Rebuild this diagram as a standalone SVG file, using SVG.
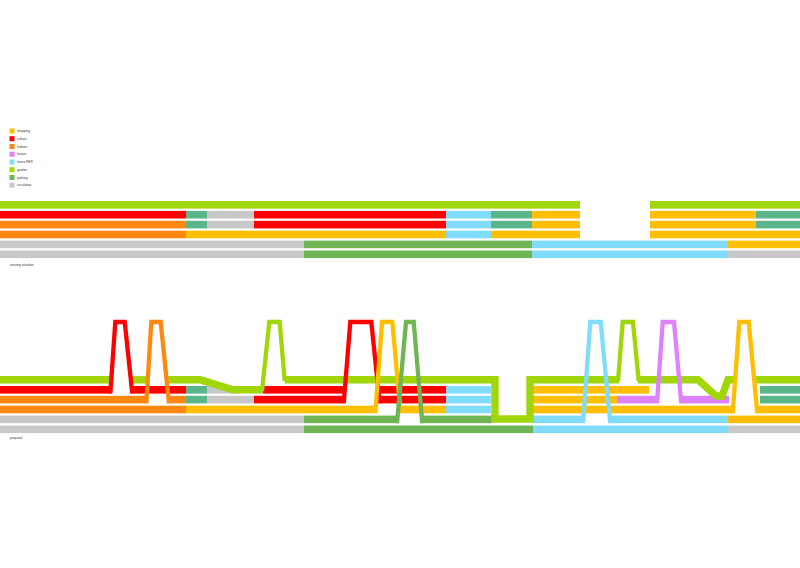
<svg xmlns="http://www.w3.org/2000/svg" width="800" height="568" viewBox="0 0 800 568">
<style>
.t{font-family:"Liberation Sans",Arial,sans-serif;font-size:3.2px;fill:#333}
.gd{fill:#a0d60a}.cu{fill:#ff0000}.fa{fill:#ff8811}.sh{fill:#ffbf00}.tl{fill:#5bb58b}
.pk{fill:#6fb553}.mr{fill:#80dcfa}.ci{fill:#c8c8c8}.le{fill:#df80ff}
.gl{fill:none;stroke:#a0d60a;stroke-width:7.4;stroke-linejoin:miter}
.lp{fill:none;stroke-width:4.3;stroke-linejoin:miter}
</style>
<rect width="800" height="568" fill="#fff"/>
<g id="legend">
<rect class="sh" x="9.5" y="128.5" width="5" height="5"/><text class="t" x="17" y="132">shopping</text>
<rect class="cu" x="9.5" y="136.2" width="5" height="5"/><text class="t" x="17" y="139.7">culture</text>
<rect class="fa" x="9.5" y="144" width="5" height="5"/><text class="t" x="17" y="147.5">fashion</text>
<rect class="le" x="9.5" y="151.7" width="5" height="5"/><text class="t" x="17" y="155.2">leisure</text>
<rect class="mr" x="9.5" y="159.5" width="5" height="5"/><text class="t" x="17" y="163">metro RER</text>
<rect class="gd" x="9.5" y="167.2" width="5" height="5"/><text class="t" x="17" y="170.7">garden</text>
<rect class="pk" x="9.5" y="175" width="5" height="5"/><text class="t" x="17" y="178.5">parking</text>
<rect class="ci" x="9.5" y="182.7" width="5" height="5"/><text class="t" x="17" y="186.2">circulation</text>
</g>
<g id="existing">
<rect class="gd" x="0" y="201" width="580" height="7.6"/>
<rect class="gd" x="650" y="201" width="150" height="7.6"/>
<rect class="cu" x="0" y="210.9" width="186" height="7.6"/>
<rect class="tl" x="186" y="210.9" width="21" height="7.6"/>
<rect class="ci" x="207" y="210.9" width="47" height="7.6"/>
<rect class="cu" x="254" y="210.9" width="192" height="7.6"/>
<rect class="mr" x="446" y="210.9" width="45" height="7.6"/>
<rect class="tl" x="491" y="210.9" width="41" height="7.6"/>
<rect class="sh" x="532" y="210.9" width="48" height="7.6"/>
<rect class="sh" x="650" y="210.9" width="106" height="7.6"/>
<rect class="tl" x="756" y="210.9" width="44" height="7.6"/>
<rect class="fa" x="0" y="220.8" width="186" height="7.6"/>
<rect class="tl" x="186" y="220.8" width="21" height="7.6"/>
<rect class="ci" x="207" y="220.8" width="47" height="7.6"/>
<rect class="cu" x="254" y="220.8" width="192" height="7.6"/>
<rect class="mr" x="446" y="220.8" width="45" height="7.6"/>
<rect class="tl" x="491" y="220.8" width="41" height="7.6"/>
<rect class="sh" x="532" y="220.8" width="48" height="7.6"/>
<rect class="sh" x="650" y="220.8" width="106" height="7.6"/>
<rect class="tl" x="756" y="220.8" width="44" height="7.6"/>
<rect class="fa" x="0" y="230.7" width="186" height="7.6"/>
<rect class="sh" x="186" y="230.7" width="260" height="7.6"/>
<rect class="mr" x="446" y="230.7" width="45" height="7.6"/>
<rect class="sh" x="491" y="230.7" width="89" height="7.6"/>
<rect class="sh" x="650" y="230.7" width="150" height="7.6"/>
<rect class="ci" x="0" y="240.6" width="304" height="7.6"/>
<rect class="pk" x="304" y="240.6" width="228" height="7.6"/>
<rect class="mr" x="532" y="240.6" width="196" height="7.6"/>
<rect class="sh" x="728" y="240.6" width="72" height="7.6"/>
<rect class="ci" x="0" y="250.5" width="304" height="7.6"/>
<rect class="pk" x="304" y="250.5" width="228" height="7.6"/>
<rect class="mr" x="532" y="250.5" width="196" height="7.6"/>
<rect class="ci" x="728" y="250.5" width="72" height="7.6"/>
<text class="t" x="10" y="265.5">existing situation</text>
</g>
<g id="proposal">
<rect class="cu" x="0" y="386" width="110.3" height="7.6"/>
<rect class="cu" x="132.3" y="386" width="53.7" height="7.6"/>
<rect class="tl" x="186" y="386" width="21" height="7.6"/>
<rect class="ci" x="207" y="386" width="30" height="7.6"/>
<rect class="cu" x="263" y="386" width="80.7" height="7.6"/>
<rect class="cu" x="379.7" y="386" width="66.3" height="7.6"/>
<rect class="mr" x="446" y="386" width="45" height="7.6"/>
<rect class="sh" x="533" y="386" width="116" height="7.6"/>
<rect class="tl" x="760" y="386" width="40" height="7.6"/>
<rect class="fa" x="0" y="395.8" width="146.3" height="7.6"/>
<rect class="fa" x="169" y="395.8" width="17" height="7.6"/>
<rect class="tl" x="186" y="395.8" width="21" height="7.6"/>
<rect class="ci" x="207" y="395.8" width="47" height="7.6"/>
<rect class="cu" x="254" y="395.8" width="89.7" height="7.6"/>
<rect class="cu" x="379.7" y="395.8" width="66.3" height="7.6"/>
<rect class="mr" x="446" y="395.8" width="45" height="7.6"/>
<rect class="sh" x="533" y="395.8" width="84" height="7.6"/>
<rect class="le" x="617" y="395.8" width="40" height="7.6"/>
<rect class="le" x="681.3" y="395.8" width="47.7" height="7.6"/>
<rect class="tl" x="760" y="395.8" width="40" height="7.6"/>
<rect class="fa" x="0" y="405.7" width="186" height="7.6"/>
<rect class="sh" x="186" y="405.7" width="189.3" height="7.6"/>
<rect class="sh" x="400.7" y="405.7" width="45.3" height="7.6"/>
<rect class="mr" x="446" y="405.7" width="45" height="7.6"/>
<rect class="sh" x="533" y="405.7" width="199.7" height="7.6"/>
<rect class="sh" x="757.3" y="405.7" width="42.7" height="7.6"/>
<rect class="ci" x="0" y="415.6" width="304" height="7.6"/>
<rect class="pk" x="304" y="415.6" width="93" height="7.6"/>
<rect class="pk" x="422.3" y="415.6" width="69.7" height="7.6"/>
<rect class="mr" x="533" y="415.6" width="50" height="7.6"/>
<rect class="mr" x="610.3" y="415.6" width="117.7" height="7.6"/>
<rect class="sh" x="728" y="415.6" width="72" height="7.6"/>
<rect class="ci" x="0" y="425.5" width="304" height="7.6"/>
<rect class="pk" x="304" y="425.5" width="229" height="7.6"/>
<rect class="mr" x="533" y="425.5" width="195" height="7.6"/>
<rect class="ci" x="728" y="425.5" width="72" height="7.6"/>
<text class="t" x="10" y="439">proposal</text>
</g>
<g id="connectors">
<path class="gl" d="M0,379.8 H111"/>
<path class="gl" d="M131,379.8 H148"/>
<path class="gl" d="M166.6,379.8 H200 L233,389.8 H263"/>
<path class="gl" d="M284.5,379.8 H495 V419 H530 V379.8 H619"/>
<path class="gl" d="M638,379.8 H698 L716,396 H722 L728,379.8 H735"/>
<path class="gl" d="M756,379.8 H800"/>
<polyline class="lp" stroke="#ff0000" points="110.3,393.6 115.3,322 124.7,322 132.3,393.6"/>
<polyline class="lp" stroke="#ff8811" points="146.3,403.4 151.3,322 160.7,322 169,403.4"/>
<polyline class="lp" stroke="#a0d60a" points="262,391 269.3,322 279.7,322 284.7,381"/>
<polyline class="lp" stroke="#ff0000" points="343.7,403.4 350.3,322 371.3,322 379.7,403.4"/>
<polyline class="lp" stroke="#ffbf00" points="375.3,413.3 382,322 392.3,322 400.7,413.3"/>
<polyline class="lp" stroke="#6fb553" points="397,423.2 406,322 413.7,322 422.3,423.2"/>
<polyline class="lp" stroke="#80dcfa" points="583,423.2 590.3,322 600.7,322 610.3,423.2"/>
<polyline class="lp" stroke="#a0d60a" points="618,381 622.7,322 633,322 638.7,381"/>
<polyline class="lp" stroke="#df80ff" points="657,403.4 662.7,322 674,322 681.3,403.4"/>
<polyline class="lp" stroke="#ffbf00" points="732.7,413.3 739.3,322 748.7,322 757.3,413.3"/>
</g>
</svg>
